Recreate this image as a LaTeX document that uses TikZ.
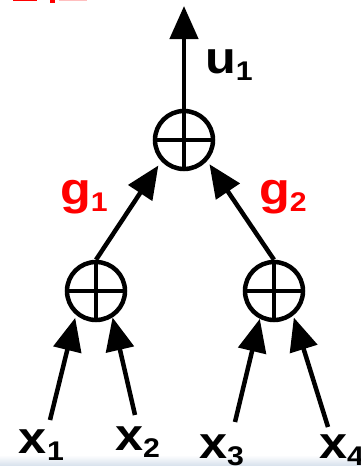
\documentclass[tikz,border=0pt]{standalone}
\usepackage{fontspec}
\setmainfont{Liberation Sans}
\usetikzlibrary{arrows.meta}
\newcommand\varlab[2]{\scalebox{1.12}[1]{\bfseries\fontsize{45}{45}\selectfont #1\raisebox{-7pt}{\fontsize{27}{27}\selectfont #2}}}
\begin{document}
\begin{tikzpicture}[x=1pt,y=-1pt,
  adder/.style={circle,draw,line width=4.5pt,minimum size=58pt,inner sep=0pt},
  cross/.style={line width=4pt},
  flow/.style={line width=4.5pt,-{Triangle[length=33pt,width=28pt]}},
  lab/.style={anchor=base west,inner sep=0pt,outer sep=0pt}]
\useasboundingbox (0,0) rectangle (361,466);
% faint slide background band along the lower edge
\shade[top color=white,bottom color={rgb,255:red,214;green,224;blue,236}] (0,455) rectangle (361,466);
% cut-off red heading remnants along the top edge
\fill[red] (13,0) rectangle (37,1.3);
\fill[red] (50,0) rectangle (55,3);
\fill[red!25] (59,0) rectangle (87,1.2);

% adders
\node[adder] (T) at (184,140) {};
\node[adder] (L) at (96,291) {};
\node[adder] (R) at (274,291) {};
\foreach \n in {T,L,R}{
  \draw[cross] (\n.north) -- (\n.south) (\n.west) -- (\n.east);
}

% inputs and output ends
\coordinate (i1) at (50,420);
\coordinate (i2) at (135,415);
\coordinate (i3) at (235,422);
\coordinate (i4) at (328,427);
\coordinate (o) at (184,6);

% connectors
\draw[flow] (T.north) -- (o);
\draw[flow,shorten >=5pt] (L.north) -- (T.223);
\draw[flow,shorten >=4pt] (R.north) -- (T.318);
\draw[flow,shorten >=3pt] (i1) -- (L.230);
\draw[flow] (i2) -- (L.302);
\draw[flow] (i3) -- (R.243);
\draw[flow,shorten >=2pt] (i4) -- (R.308);

% labels
\node[lab] (u1) at (205,73) {\varlab{u}{1}};
\node[lab,text=red] (g1) at (60,204) {\varlab{g}{1}};
\node[lab,text=red] (g2) at (259,204) {\varlab{g}{2}};
\node[lab] (x1) at (19,453) {\varlab{x}{1}};
\node[lab] (x2) at (115,450) {\varlab{x}{2}};
\node[lab] (x3) at (199,458) {\varlab{x}{3}};
\node[lab] (x4) at (319,458) {\varlab{x}{4}};
\end{tikzpicture}
\end{document}
